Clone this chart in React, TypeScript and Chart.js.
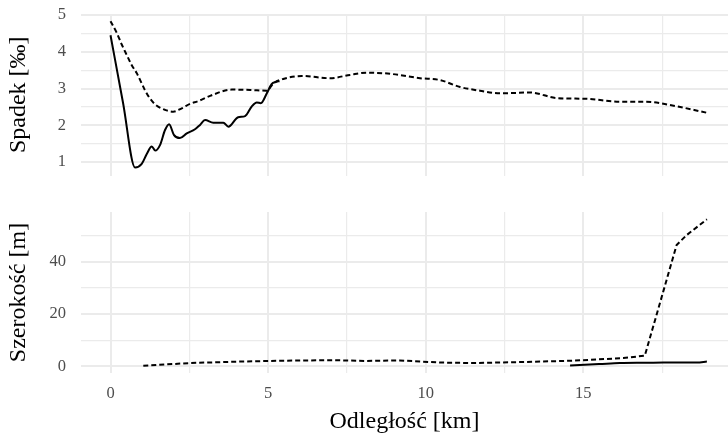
import React, { useEffect, useRef } from "react";
import { Chart, registerables } from "chart.js";

Chart.register(...registerables);

// Distance axis (km)
const xMin = -0.936;
const xMax = 19.59;
const xTicks = [0, 2.5, 5, 7.5, 10, 12.5, 15, 17.5];
const xLabelled = [0, 5, 10, 15];

// Upper panel: slope [‰]
const slopeTicks = [1, 1.5, 2, 2.5, 3, 3.5, 4, 4.5, 5];
const slopeLabelled = [1, 2, 3, 4, 5];

const slopeSolidKm = [0, 0.4, 0.78, 0.99, 1.15, 1.31, 1.42, 1.57, 1.73, 1.86, 2.01, 2.2, 2.42, 2.68, 2.84, 3.0, 3.26, 3.58, 3.74, 4.05, 4.27, 4.48, 4.64, 4.77, 4.96, 5.11, 5.25, 5.36];
const slopeSolid = [4.45, 2.6, 0.85, 0.95, 1.22, 1.42, 1.31, 1.46, 1.87, 2.03, 1.74, 1.65, 1.78, 1.89, 2.01, 2.14, 2.07, 2.07, 1.96, 2.22, 2.25, 2.51, 2.62, 2.6, 2.87, 3.12, 3.18, 3.2];

const slopeDashedKm = [0, 0.2, 0.36, 0.51, 0.67, 0.83, 0.99, 1.09, 1.25, 1.47, 1.73, 1.99, 2.26, 2.52, 2.79, 3.16, 3.85, 4.43, 4.96, 5.17, 5.48, 6.07, 6.96, 7.6, 8.13, 8.87, 9.82, 10.45, 11.09, 11.72, 12.36, 13.31, 14.16, 15.1, 16.16, 17.0, 17.75, 18.92];
const slopeDashed = [4.83, 4.51, 4.19, 3.92, 3.64, 3.42, 3.14, 2.96, 2.73, 2.53, 2.42, 2.37, 2.46, 2.58, 2.66, 2.8, 2.97, 2.96, 2.94, 3.14, 3.26, 3.34, 3.28, 3.37, 3.43, 3.4, 3.28, 3.23, 3.04, 2.94, 2.87, 2.89, 2.74, 2.72, 2.64, 2.64, 2.55, 2.34];

// Lower panel: width [m]
const widthTicks = [0, 10, 20, 30, 40, 50];
const widthLabelled = [0, 20, 40];

const widthSolidKm = [14.58, 15.5, 16.16, 17.0, 17.54, 18.6, 18.92];
const widthSolid = [0.4, 0.9, 1.3, 1.4, 1.5, 1.5, 1.9];

const widthDashedKm = [1.04, 2.52, 3.9, 5.48, 7.07, 8.13, 9.18, 10.45, 11.51, 13.1, 14.68, 16.27, 16.95, 17.45, 17.96, 18.28, 18.92];
const widthDashed = [0.3, 1.3, 1.8, 2.2, 2.4, 2.1, 2.3, 1.5, 1.3, 1.7, 2.2, 3.2, 4.1, 25.0, 46.4, 50.2, 56.2];

const FONT = "'Liberation Serif', 'Times New Roman', serif";
const GRID = "rgb(235,235,235)";
const TICK_COLOR = "#4d4d4d";
const TICK_SIZE = 16.5;
const TITLE_SIZE = 24;

const pts = (xs: number[], ys: number[]) => xs.map((x, i) => ({ x, y: ys[i] }));

const lineWidthFor = (labelled: number[]) => (ctx: any) =>
  ctx.tick && labelled.includes(ctx.tick.value) ? 2 : 1.2;

const xScale = (showLabels: boolean, height: number) => ({
  type: "linear" as const,
  min: xMin,
  max: xMax,
  border: { display: false },
  grid: { color: GRID, drawTicks: false, lineWidth: lineWidthFor(xLabelled) },
  afterBuildTicks: (s: any) => {
    s.ticks = xTicks.map((v) => ({ value: v }));
  },
  afterFit: (s: any) => {
    s.height = height;
  },
  ticks: {
    display: showLabels,
    autoSkip: false,
    maxRotation: 0,
    padding: 11,
    color: TICK_COLOR,
    font: { family: FONT, size: TICK_SIZE },
    callback: (v: any) => (xLabelled.includes(v) ? String(v) : ""),
  },
  title: {
    display: showLabels,
    text: "Odległość [km]",
    color: "#000",
    font: { family: FONT, size: TITLE_SIZE, lineHeight: 1.2 },
    padding: { top: 0, bottom: 0 },
  },
});

const yScale = (title: string, min: number, max: number, ticks: number[], labelled: number[]) => ({
  type: "linear" as const,
  min,
  max,
  border: { display: false },
  // invisible tick marks keep the labels 15px away from the panel
  grid: {
    color: GRID,
    drawTicks: true,
    tickLength: 15,
    tickColor: "rgba(0,0,0,0)",
    lineWidth: lineWidthFor(labelled),
  },
  afterBuildTicks: (s: any) => {
    s.ticks = ticks.map((v) => ({ value: v }));
  },
  afterFit: (s: any) => {
    s.width = 81;
  },
  ticks: {
    autoSkip: false,
    padding: 0,
    color: TICK_COLOR,
    font: { family: FONT, size: TICK_SIZE },
    callback: (v: any) => (labelled.includes(v) ? String(v) : ""),
  },
  title: {
    display: true,
    text: title,
    color: "#000",
    font: { family: FONT, size: TITLE_SIZE, lineHeight: 1.2 },
    padding: { top: 4, bottom: 0 },
  },
});

const lineSet = (data: { x: number; y: number }[], dashed: boolean, smooth: boolean) => ({
  data,
  borderColor: "#000",
  borderWidth: 2,
  borderDash: dashed ? [5, 3] : [],
  borderCapStyle: "butt" as const,
  pointRadius: 0,
  fill: false,
  cubicInterpolationMode: smooth ? ("monotone" as const) : ("default" as const),
  tension: 0,
});

function Panel(props: { top: number; height: number; config: any }) {
  const ref = useRef<HTMLCanvasElement | null>(null);
  useEffect(() => {
    if (!ref.current) return;
    const chart = new Chart(ref.current, props.config);
    return () => chart.destroy();
  }, []);
  return (
    <div style={{ position: "absolute", left: 0, top: props.top, width: 728, height: props.height }}>
      <canvas ref={ref} width={728} height={props.height} />
    </div>
  );
}

const commonOptions = {
  animation: false as const,
  responsive: false,
  plugins: { legend: { display: false }, tooltip: { enabled: false } },
};

const slopeConfig = {
  type: "line" as const,
  data: {
    datasets: [
      lineSet(pts(slopeDashedKm, slopeDashed), true, true),
      lineSet(pts(slopeSolidKm, slopeSolid), false, true),
    ],
  },
  options: {
    ...commonOptions,
    layout: { padding: { top: 14, bottom: 14.5, left: 0, right: 0 } },
    scales: {
      x: xScale(false, 0),
      y: yScale("Spadek [‰]", 0.633, 5.027, slopeTicks, slopeLabelled),
    },
  },
};

const widthConfig = {
  type: "line" as const,
  data: {
    datasets: [
      lineSet(pts(widthDashedKm, widthDashed), true, false),
      lineSet(pts(widthSolidKm, widthSolid), false, true),
    ],
  },
  options: {
    ...commonOptions,
    layout: { padding: { top: 17, bottom: 0, left: 0, right: 0 } },
    scales: {
      x: xScale(true, 63),
      y: yScale("Szerokość [m]", -2.5, 59, widthTicks, widthLabelled),
    },
  },
};

export default function App() {
  return (
    <div style={{ position: "absolute", left: 0, top: 0, width: 728, height: 436, background: "#fff" }}>
      <Panel top={0} height={190} config={slopeConfig} />
      <Panel top={195} height={241} config={widthConfig} />
    </div>
  );
}
